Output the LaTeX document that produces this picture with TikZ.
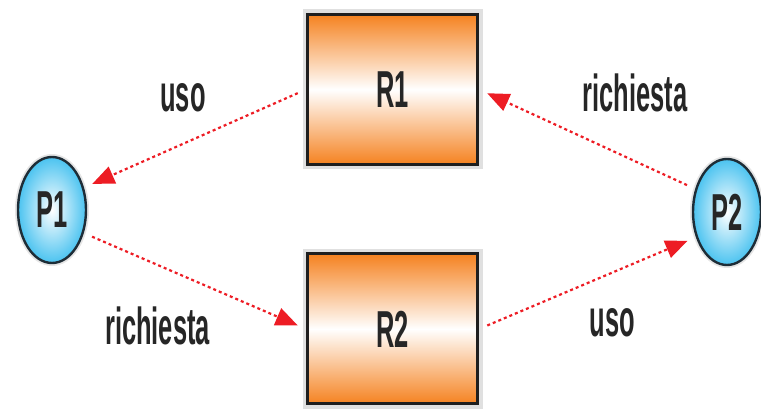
\documentclass[tikz,border=0pt]{standalone}
\usepackage{fontspec}
\setmainfont{Liberation Sans}[FakeStretch=0.49]
\usetikzlibrary{shapes.geometric,arrows.meta}

\definecolor{resorange}{RGB}{245,130,32}
\definecolor{procblue}{RGB}{75,195,240}
\definecolor{procedge}{RGB}{30,45,55}
\definecolor{linkred}{RGB}{237,28,36}

\tikzset{
  risorsa/.style={rectangle, draw=black!88, line width=1.5pt,
    minimum width=85pt, minimum height=75pt,
    top color=resorange, bottom color=resorange, middle color=white,
    preaction={draw=black!12, line width=5pt},
    text=black!85, font=\fontsize{26}{30}\selectfont\bfseries},
  processo/.style={ellipse, draw=procedge, line width=1.2pt,
    minimum width=34pt, minimum height=53pt, inner sep=0pt,
    inner color=white, outer color=procblue,
    preaction={draw=black!10, line width=3pt},
    text=black!85, font=\fontsize{26}{30}\selectfont\bfseries},
  arco/.style={draw=linkred, line width=1.1pt, dash pattern=on 1.5pt off 1.5pt,
    -{Triangle[length=11pt,width=9pt]}, shorten <=4.5pt, shorten >=4.5pt},
  etichetta/.style={anchor=base, text=black!85, font=\fontsize{26}{30}\selectfont\bfseries},
}

\begin{document}
\begin{tikzpicture}[x=0.5pt,y=-0.5pt]
  \useasboundingbox (0,0) rectangle (761,410);

  % risorse
  \node[risorsa] (R1) at (392.5,89.5) {R1};
  \node[risorsa] (R2) at (392.5,329) {R2};

  % processi
  \node[processo] (P1) at (52,210) {P1};
  \node[processo] (P2) at (727,212) {P2};

  % archi di uso e di richiesta
  \draw[arco] (R1.west) -- (P1.35);
  \draw[arco] (P2.144) -- (R1.east);
  \draw[arco] (P1.-36) -- (R2.west);
  \draw[arco] (R2.east) -- (P2.219);

  % etichette
  \node[etichetta] (usoA) at (183,112) {uso};
  \node[etichetta] (richA) at (635,112) {richiesta};
  \node[etichetta] (richB) at (157.5,345) {richiesta};
  \node[etichetta] (usoB) at (612.5,337) {uso};
\end{tikzpicture}
\end{document}
